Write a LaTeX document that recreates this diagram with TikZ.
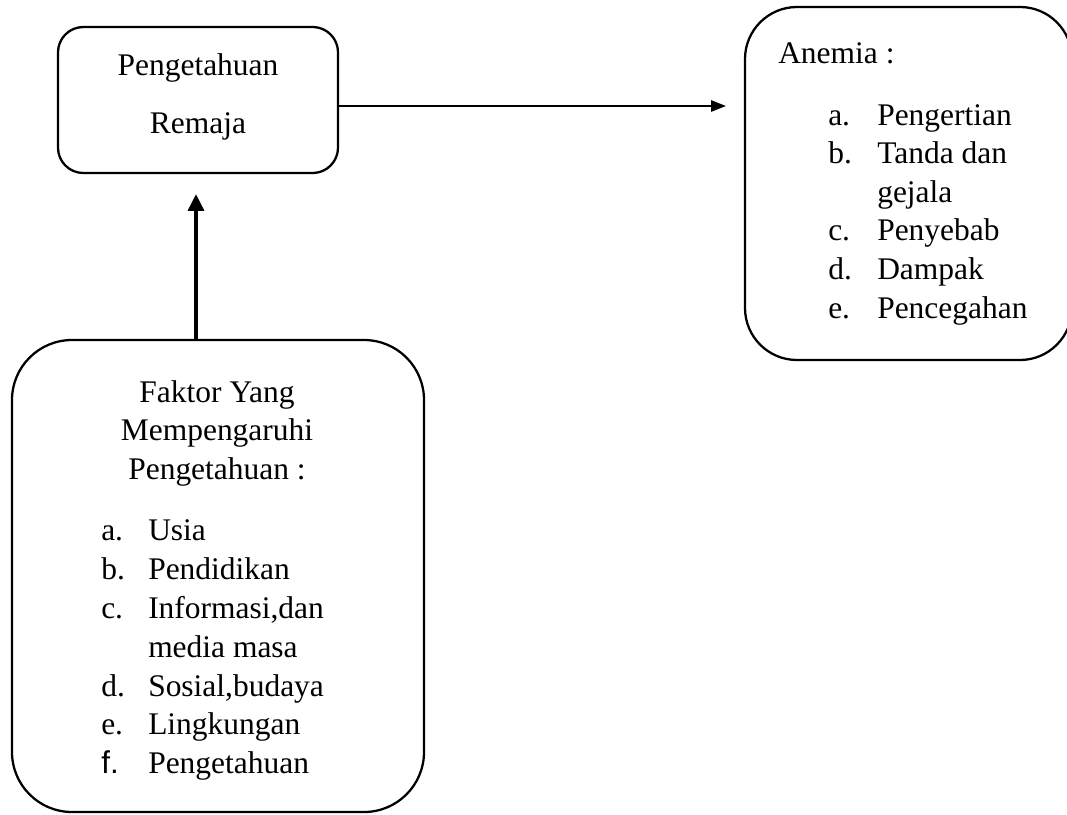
\documentclass[tikz,border=0pt]{standalone}
\usepackage{fontspec}
\setmainfont{Liberation Serif}
\usetikzlibrary{arrows.meta}
\begin{document}
\begin{tikzpicture}[x=0.75pt,y=-0.75pt,
  box/.style={draw, line width=1.7pt, rounded corners=#1, inner sep=0pt},
  txt/.style={inner sep=0pt, font=\fontsize{23.6}{28}\selectfont},
  thinarrow/.style={line width=0.9pt, -{Triangle[length=11pt,width=8.5pt]}},
  thickarrow/.style={line width=2.3pt, -{Triangle[length=12.5pt,width=12pt]}}]
\useasboundingbox (0,0) rectangle (1067,814);
% boxes
\node[box=19pt, minimum width=210pt, minimum height=109.5pt] (remaja) at (198,100) {};
\node[box=39pt, minimum width=245.25pt, minimum height=264.75pt] (anemia) at (908.5,183.5) {};
\node[box=45pt, minimum width=309pt, minimum height=354pt] (faktor) at (218,576) {};
% box 1 text
\node[txt, anchor=base] (r1) at (198,75) {Pengetahuan};
\node[txt, anchor=base] (r2) at (198,133) {Remaja};
% box 2 text
\node[txt, anchor=base west] (a0) at (778,63) {Anemia :};
\node[txt, anchor=base west] (al1) at (828,125) {a.};
\node[txt, anchor=base west] (at1) at (877,125) {Pengertian};
\node[txt, anchor=base west] (al2) at (828,163.6) {b.};
\node[txt, anchor=base west] (at2) at (877,163.6) {Tanda dan};
\node[txt, anchor=base west] (at2b) at (877,202.2) {gejala};
\node[txt, anchor=base west] (al3) at (828,240.8) {c.};
\node[txt, anchor=base west] (at3) at (877,240.8) {Penyebab};
\node[txt, anchor=base west] (al4) at (828,279.4) {d.};
\node[txt, anchor=base west] (at4) at (877,279.4) {Dampak};
\node[txt, anchor=base west] (al5) at (828,318) {e.};
\node[txt, anchor=base west] (at5) at (877,318) {Pencegahan};
% box 3 text
\node[txt, anchor=base] (f0a) at (217,402) {Faktor Yang};
\node[txt, anchor=base] (f0b) at (217,440.5) {Mempengaruhi};
\node[txt, anchor=base] (f0c) at (217,479) {Pengetahuan :};
\node[txt, anchor=base west] (fl1) at (101,540) {a.};
\node[txt, anchor=base west] (ft1) at (148,540) {Usia};
\node[txt, anchor=base west] (fl2) at (101,579) {b.};
\node[txt, anchor=base west] (ft2) at (148,579) {Pendidikan};
\node[txt, anchor=base west] (fl3) at (101,618) {c.};
\node[txt, anchor=base west] (ft3) at (148,618) {Informasi,dan};
\node[txt, anchor=base west] (ft3b) at (148,657) {media masa};
\node[txt, anchor=base west] (fl4) at (101,696) {d.};
\node[txt, anchor=base west] (ft4) at (148,696) {Sosial,budaya};
\node[txt, anchor=base west] (fl5) at (101,734.5) {e.};
\node[txt, anchor=base west] (ft5) at (148,734.5) {Lingkungan};
\node[txt, anchor=base west, font=\fontsize{23.6}{28}\fontspec{Liberation Sans}] (fl6) at (101,773) {f.};
\node[txt, anchor=base west] (ft6) at (148,773) {Pengetahuan};
% connectors
\draw[thinarrow, shorten >=13.5pt] ([yshift=-4.5pt]remaja.east) -- ([yshift=-4.5pt]remaja.east -| anemia.west);
\draw[thickarrow, shorten >=15pt] ([xshift=-1.5pt]remaja.south |- faktor.north) -- ([xshift=-1.5pt]remaja.south);
\end{tikzpicture}
\end{document}
